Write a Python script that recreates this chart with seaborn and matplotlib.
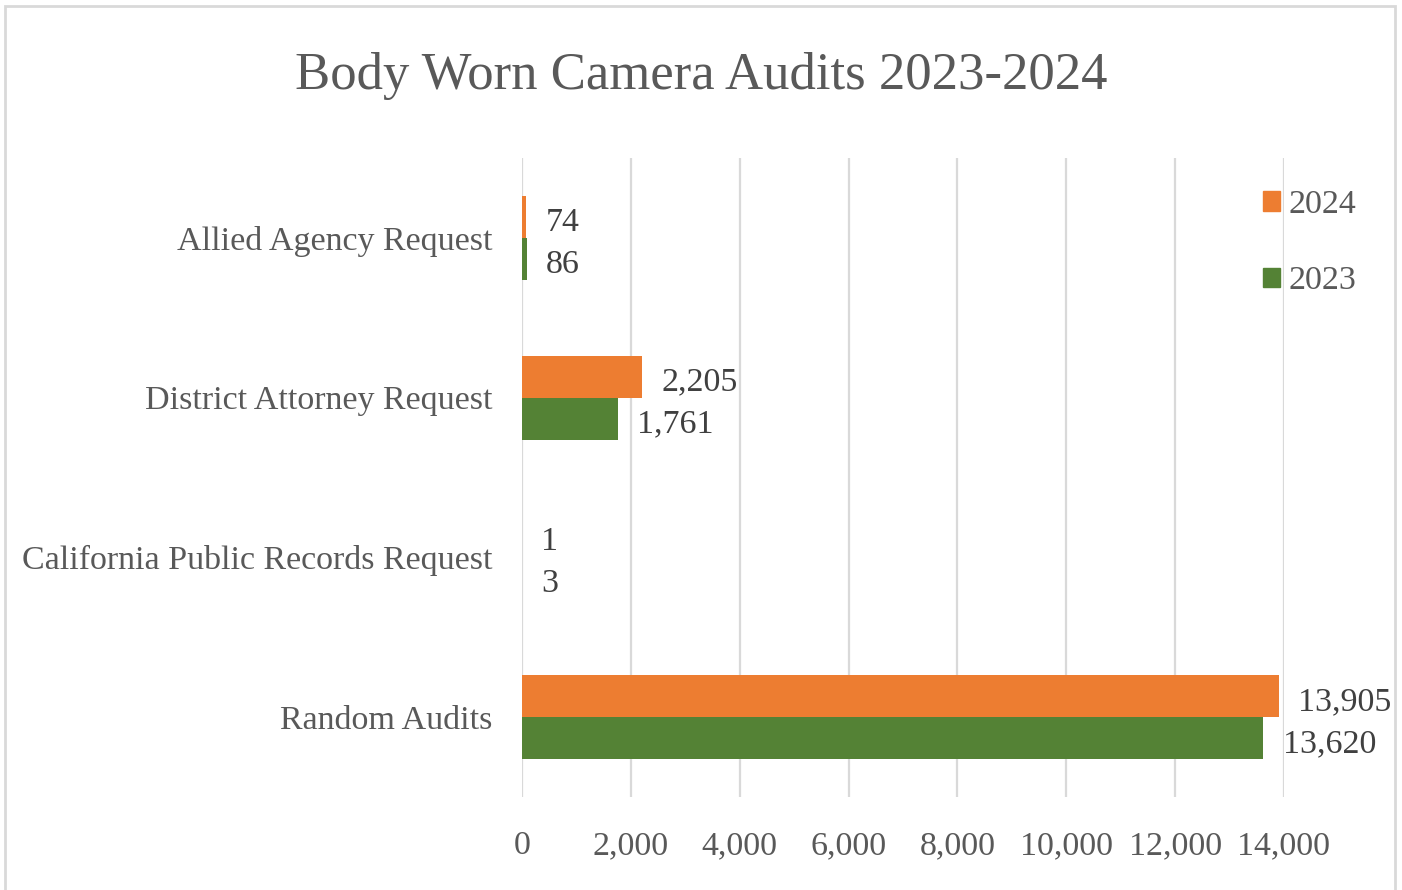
import matplotlib
matplotlib.use("Agg")
import matplotlib.pyplot as plt
import matplotlib.patches as mpatches
from matplotlib.ticker import FuncFormatter, MultipleLocator
import pandas as pd
import seaborn as sns

categories = [
    "Allied Agency Request",
    "District Attorney Request",
    "California Public Records Request",
    "Random Audits",
]
years = ["2024", "2023"]
audits_2024 = [74, 2205, 1, 13905]
audits_2023 = [86, 1761, 3, 13620]
x_ticks = [0, 2000, 4000, 6000, 8000, 10000, 12000, 14000]

colors = {"2024": "#ED7D31", "2023": "#548235"}
text_grey = "#595959"
grid_grey = "#D9D9D9"

df = pd.DataFrame({
    "Request": categories * 2,
    "Year": ["2024"] * len(categories) + ["2023"] * len(categories),
    "Audits": audits_2024 + audits_2023,
})

sns.set_theme(style="white")
plt.rcParams["font.family"] = ["Liberation Serif", "DejaVu Serif"]

fig = plt.figure(figsize=(14.02, 8.90), dpi=100)
ax = fig.add_axes([0.3723, 0.1045, 0.9158 - 0.3723, 0.8225 - 0.1045])

sns.barplot(
    data=df, y="Request", x="Audits", hue="Year",
    order=categories, hue_order=years, palette=colors,
    orient="h", width=0.525, saturation=1, ax=ax, errorbar=None,
    linewidth=0,
)

ax.set_xlim(0, 14000)
ax.set_ylim(3.5, -0.5)
ax.set_xticks(x_ticks)
ax.xaxis.set_major_formatter(FuncFormatter(lambda v, p: f"{int(v):,}"))
ax.set_xlabel("")
ax.set_ylabel("")
ax.grid(axis="x", color=grid_grey, linewidth=1.6)
ax.grid(axis="y", visible=False)
ax.set_axisbelow(True)
for s in ax.spines.values():
    s.set_visible(False)
ax.tick_params(axis="x", length=0, pad=24, labelsize=24.5, labelcolor=text_grey)
ax.tick_params(axis="y", length=0, pad=21, labelsize=24.5, labelcolor=text_grey)

# value labels just past the end of each bar
for container in ax.containers:
    for rect, val in zip(container, container.datavalues):
        ax.annotate(f"{int(val):,}",
                    xy=(rect.get_width(), rect.get_y() + rect.get_height() / 2),
                    xytext=(14, -4), textcoords="offset points",
                    ha="left", va="center", fontsize=24.5, color="#404040")

handles = [mpatches.Patch(color=colors[y], label=y) for y in years]
ax.legend(handles=handles, loc="upper left", bbox_to_anchor=(0.955, 0.972),
          frameon=False, fontsize=24.5, labelspacing=1.35, handlelength=0.5,
          handleheight=0.5, handletextpad=0.25, labelcolor=text_grey,
          borderaxespad=0)

fig.text(0.5, 0.915, "Body Worn Camera Audits 2023-2024", ha="center",
         va="center", fontsize=38, color=text_grey)

frame = mpatches.Rectangle((5 / 1402, -0.02), (1395 - 5) / 1402, 1.02 - 6 / 890,
                           transform=fig.transFigure, fill=False,
                           edgecolor="#D9D9D9", linewidth=2)
fig.patches.append(frame)

fig.savefig("out.png", dpi=100, facecolor="white")
